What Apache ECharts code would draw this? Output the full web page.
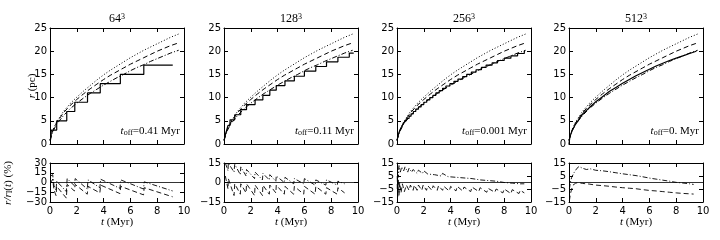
<!DOCTYPE html>
<html><head><meta charset="utf-8">
<script src="https://cdn.jsdelivr.net/npm/echarts@6/dist/echarts.min.js"></script>
<style>html,body{margin:0;padding:0;background:#fff}#c{width:720px;height:240px}</style>
</head><body><div id="c"></div>
<script>
// ---- data ----
const panelTitles = ['64', '128', '256', '512'];
const toffLabels = ['0.41', '0.11', '0.001', '0.'];
const xTicks = [0, 2, 4, 6, 8, 10];
const rTicks = [0, 5, 10, 15, 20, 25];
const ratioTicks = [[-30, -15, 0, 15, 30], [-15, 0, 15], [-15, -5, 5, 15], [-15, -5, 5, 15]];

// reference analytic curves (same in all panels)
const refT        = [0, 0.1, 0.25, 0.5, 1, 1.5, 2, 2.5, 3, 3.5, 4, 4.5, 5, 5.5, 6, 6.5, 7, 7.5, 8, 8.5, 9, 9.6];
const rDotted     = [0.8, 2.0, 3.2, 4.8, 7.0, 8.7, 10.1, 11.4, 12.6, 13.8, 14.9, 15.9, 16.8, 17.7, 18.6, 19.4, 20.2, 20.9, 21.6, 22.3, 23.0, 23.7];
const rDashed     = [0.8, 1.9, 3.1, 4.6, 6.7, 8.3, 9.6, 10.8, 11.9, 12.9, 13.9, 14.8, 15.6, 16.4, 17.2, 17.9, 18.6, 19.3, 20.0, 20.6, 21.2, 21.8];
const rDashDot    = [0.8, 1.8, 2.9, 4.3, 6.1, 7.6, 8.8, 9.9, 10.9, 11.8, 12.7, 13.5, 14.3, 15.0, 15.8, 16.5, 17.1, 17.8, 18.4, 19.0, 19.6, 20.2];

// simulated radius (solid)
const sim64 = [[0.05,1],[0.1,3],[0.5,5],[1.25,7],[1.85,9],[2.8,11],[3.75,13],[5.25,15],[7.0,17],[9.16,17]];
const sim128 = [[0.03,1],[0.1,2],[0.2,3],[0.3,4],[0.45,5.2],[0.8,6.3],[1.25,7.4],[1.68,8.5],[2.32,9.5],[2.9,10.5],[3.42,11.6],[3.9,12.6],[4.55,13.6],[5.25,14.6],[6.0,15.7],[6.85,16.7],[7.65,17.7],[8.5,18.7],[9.35,19.6],[9.68,19.6]];
const sim256 = [[0.02,0.8],[0.05,1.5],[0.1,2],[0.15,2.5],[0.22,3],[0.3,3.5],[0.4,4],[0.5,4.5],[0.62,5],[0.75,5.5],[0.9,6],[1.05,6.5],[1.22,7],[1.4,7.5],[1.6,8],[1.8,8.5],[2.0,9],[2.22,9.5],[2.45,10],[2.68,10.5],[2.9,11],[3.15,11.5],[3.4,12],[3.65,12.5],[3.95,13],[4.25,13.5],[4.55,14],[4.9,14.5],[5.2,15],[5.55,15.5],[5.9,16],[6.3,16.5],[6.65,17],[7.1,17.5],[7.5,18],[8.0,18.5],[8.5,19],[9.0,19.5],[9.5,20],[9.56,20]];
const sim512 = [[0,0],[0.05,1.2],[0.1,1.8],[0.25,3.0],[0.5,4.3],[1,6.4],[1.5,7.8],[2,9.1],[2.5,10.2],[3,11.3],[3.5,12.2],[4,13.1],[4.5,13.9],[5,14.7],[5.5,15.4],[6,16.1],[6.5,16.8],[7,17.4],[7.5,18.0],[8,18.5],[8.5,19.0],[9,19.5],[9.5,20.0]];

// relative deviation (%) : upper (dash-dot) and lower (dashed)
const dev64Up = [[0.05,10],[0.2,12],[0.3,-5],[0.45,-12],[0.5,2],[1.22,-14],[1.28,6],[1.82,-5],[1.88,6],[2.78,-10],[2.84,4],[3.72,-8],[3.78,5],[5.22,-9],[5.28,4],[6.98,-10],[7.03,1],[9.15,-13]];
const dev64Lo = [[0.05,0],[0.2,5],[0.3,-12],[0.45,-20],[0.5,-6],[1.22,-24],[1.28,-3],[1.82,-13],[1.88,-3],[2.78,-18],[2.84,-6],[3.72,-16],[3.78,-4],[5.22,-17],[5.28,-6],[6.98,-19],[7.03,-8],[9.15,-22]];
const dev128Up = [[0.1,15],[0.3,9],[0.32,15],[0.75,8],[0.8,14],[1.22,6],[1.25,12],[1.65,5],[1.68,10],[2.28,3],[2.32,8],[2.87,2],[2.9,7],[3.38,2],[3.42,6],[3.87,1],[3.9,5],[4.5,0],[4.55,4],[5.2,-1],[5.25,3],[5.95,-1],[6.0,3],[6.8,-2],[6.85,2],[7.6,-2],[7.65,2],[8.45,-2],[8.5,1],[9.0,-1]];
const dev128Lo = [[0.1,5],[0.3,-5],[0.32,3],[0.75,-10],[0.8,-1],[1.22,-9],[1.25,-1],[1.65,-8],[1.68,-1],[2.28,-10],[2.32,-2],[2.87,-10],[2.9,-2],[3.38,-9],[3.42,-2],[3.87,-8],[3.9,-2],[4.5,-9],[4.55,-3],[5.2,-9],[5.25,-3],[5.95,-9],[6.0,-3],[6.8,-9],[6.85,-3],[7.6,-9],[7.65,-4],[8.45,-9],[8.5,-4],[9.0,-8]];
const dev256Up = [[0.02,-5],[0.05,12],[0.1,4],[0.15,13],[0.25,8],[0.35,12],[0.5,9],[0.6,12],[0.8,8],[0.9,11],[1.1,8],[1.2,10],[1.5,7],[1.6,9.5],[1.9,7],[2.0,9],[2.3,6.5],[2.4,8],[2.8,6],[2.9,7.5],[3.3,5],[3.4,7],[3.8,4.5],[3.9,6],[4.4,4],[4.5,5.5],[5,3.5],[5.1,5],[5.6,3],[5.7,4],[6.2,2],[6.3,3.5],[6.8,1.5],[6.9,3],[7.4,1],[7.5,2],[8,0],[8.1,1.5],[8.6,-0.5],[8.7,1],[9.2,-1],[9.3,0],[9.5,-1]];
const dev256Lo = [[0.02,5],[0.05,-12],[0.1,2],[0.15,-10],[0.2,0],[0.3,-8],[0.4,-1],[0.55,-7],[0.7,-2],[0.9,-6],[1.0,-2],[1.2,-6],[1.3,-2],[1.5,-6],[1.6,-2],[1.85,-6],[1.95,-2],[2.2,-6],[2.3,-2.5],[2.6,-6],[2.7,-2.5],[3,-6],[3.1,-2.5],[3.4,-6],[3.5,-3],[3.9,-6.5],[4.0,-3],[4.4,-6.5],[4.5,-3],[4.9,-6.5],[5.0,-3.5],[5.5,-7],[5.6,-3.5],[6.1,-7],[6.2,-4],[6.7,-7.5],[6.8,-4.5],[7.3,-7.5],[7.4,-5],[7.9,-8],[8.0,-5],[8.5,-8.5],[8.6,-5.5],[9.1,-8.5],[9.2,-6],[9.5,-8]];
const dev512Up = [[0.03,-5],[0.1,0],[0.2,4],[0.4,8],[0.6,11],[0.75,12.3],[1,11],[1.3,10],[1.6,10.5],[2,9.4],[2.5,9],[3,8.3],[3.5,7.5],[4,6.7],[4.5,6],[5,5.3],[5.5,4.4],[6,3.4],[6.5,2.6],[7,1.8],[7.5,1],[8,0.1],[8.5,-0.4],[9,-1],[9.3,-1.5]];
const dev512Lo = [[0.03,-14],[0.1,-9],[0.2,-5],[0.3,-2],[0.5,-0.5],[0.7,0],[1,-0.7],[1.5,-1.2],[2,-2],[2.5,-2.4],[3,-2.9],[3.5,-3.5],[4,-4],[4.5,-4.4],[5,-4.8],[5.5,-5.5],[6,-6.1],[6.5,-6.5],[7,-7],[7.5,-7.5],[8,-8],[8.5,-8.4],[9,-8.7],[9.3,-8.9]];

const sims = [sim64, sim128, sim256, sim512];
const simStep = [true, true, true, false];
const devUp = [dev64Up, dev128Up, dev256Up, dev512Up];
const devLo = [dev64Lo, dev128Lo, dev256Lo, dev512Lo];

// ---- layout ----
const lefts = [50, 224, 397, 569];
const W = 134;
const topTop = 28, topH = 116, botTop = 163, botH = 39;

const BLACK = '#000';
const SANS = 'DejaVu Sans';
const SERIF = 'Liberation Serif';
const DOT = [1, 2], DASH = [5, 3], DASHDOT = [5, 2, 1, 2];

const grids = [], xAxes = [], yAxes = [], extraY = [], series = [], graphics = [];
const fmt = v => (v < 0 ? '\u2212' + Math.abs(v) : '' + v);

function xAx(g, pos, label) {
  return { type: 'value', gridIndex: g, position: pos, min: 0, max: 10, interval: 2,
    axisLine: { show: true, onZero: false, lineStyle: { color: BLACK, width: 1 } },
    axisTick: { show: true, inside: true, length: 4, lineStyle: { color: BLACK, width: 1 } },
    axisLabel: { show: label, color: BLACK, fontFamily: SANS, fontSize: 10, margin: 4,
      hideOverlap: false, showMinLabel: true, showMaxLabel: true },
    splitLine: { show: false } };
}
function yAx(g, pos, ticks, labelTicks, showLine) {
  return { type: 'value', gridIndex: g, position: pos, min: ticks[0], max: ticks[ticks.length - 1],
    axisLine: { show: showLine, onZero: false, lineStyle: { color: BLACK, width: 1 } },
    axisTick: { show: showLine, inside: true, length: 4, customValues: ticks, lineStyle: { color: BLACK, width: 1 } },
    axisLabel: { show: labelTicks.length > 0, color: BLACK, fontFamily: SANS, fontSize: 10, margin: 3,
      customValues: labelTicks.length ? labelTicks : ticks,
      hideOverlap: false, showMinLabel: true, showMaxLabel: true, formatter: fmt },
    splitLine: { show: false } };
}
function line(ax, data, type, width, step) {
  return { type: 'line', xAxisIndex: ax, yAxisIndex: ax, data: data, showSymbol: false, symbol: 'none',
    step: step ? 'end' : false, silent: true, animation: false, clip: true,
    lineStyle: { color: BLACK, width: width, type: type } };
}
const zip = (a, b) => a.map((v, i) => [v, b[i]]);
const evens = a => a.filter((v, i) => i % 2 === 0);
const odds = a => a.filter((v, i) => i % 2 === 1);

const rich = {
  i: { fontFamily: SERIF, fontStyle: 'italic', fontSize: 11, color: BLACK },
  n: { fontFamily: SERIF, fontSize: 11, color: BLACK },
  t: { fontFamily: SERIF, fontSize: 12, color: BLACK },
  sub: { fontFamily: SERIF, fontSize: 8, color: BLACK, verticalAlign: 'bottom', padding: [4, 0, 0, 0] },
  sup: { fontFamily: SERIF, fontSize: 8, color: BLACK, verticalAlign: 'top', padding: [0, 0, 5, 0] }
};

for (let p = 0; p < 4; p++) {
  const gT = 2 * p, gB = 2 * p + 1;
  grids.push({ left: lefts[p], top: topTop, width: W, height: topH });
  grids.push({ left: lefts[p], top: botTop, width: W, height: botH });
  xAxes.push(xAx(gT, 'bottom', false), xAx(gT, 'top', false));
  yAxes.push(yAx(gT, 'left', rTicks, rTicks, true), yAx(gT, 'right', rTicks, [], true));
  xAxes.push(xAx(gB, 'bottom', true), xAx(gB, 'top', false));
  const rt = ratioTicks[p];
  yAxes.push(yAx(gB, 'left', rt, evens(rt), true), yAx(gB, 'right', rt, [], true));
  // second label-only axis so dense labels are not dropped
  extraY.push(Object.assign(yAx(gB, 'left', rt, odds(rt), false), { offset: 0 }));
  const axT = 4 * p, axB = 4 * p + 2;
  series.push(line(axT, zip(refT, rDotted), DOT, 1));
  series.push(line(axT, zip(refT, rDashed), DASH, 1));
  series.push(line(axT, zip(refT, rDashDot), DASHDOT, 1));
  series.push(line(axT, sims[p], 'solid', 1.2, simStep[p]));
  series.push(line(axB, [[0, 0], [10, 0]], 'solid', 0.8));
  series.push(line(axB, devUp[p], DASHDOT, 0.9));
  series.push(line(axB, devLo[p], DASH, 0.9));

  graphics.push({ type: 'text', x: lefts[p] + W / 2, y: 19, style: {
    text: '{t|' + panelTitles[p] + '}{sup|3}', rich: rich, align: 'center', verticalAlign: 'middle' } });
  graphics.push({ type: 'text', x: lefts[p] + W - 4, y: 131, style: {
    text: '{i|t}{sub|off}{n|=' + toffLabels[p] + ' Myr}', rich: rich, align: 'right', verticalAlign: 'middle' } });
  graphics.push({ type: 'text', x: lefts[p] + W / 2, y: 222, style: {
    text: '{i|t}{n| (Myr)}', rich: rich, align: 'center', verticalAlign: 'middle' } });
}
graphics.push({ type: 'text', x: 32, y: 86, rotation: Math.PI / 2, style: {
  text: '{i|r}{n| (pc)}', rich: rich, align: 'center', verticalAlign: 'middle' } });
graphics.push({ type: 'text', x: 8, y: 183, rotation: Math.PI / 2, style: {
  text: '{i|r/r}{sub|I}{n|(}{i|t}{n|) (%)}', rich: rich, align: 'center', verticalAlign: 'middle' } });

const chart = echarts.init(document.getElementById('c'), null, { renderer: 'canvas' });
chart.setOption({ animation: false, backgroundColor: '#fff', grid: grids, xAxis: xAxes,
  yAxis: yAxes.concat(extraY), series: series, graphic: graphics });
</script></body></html>
